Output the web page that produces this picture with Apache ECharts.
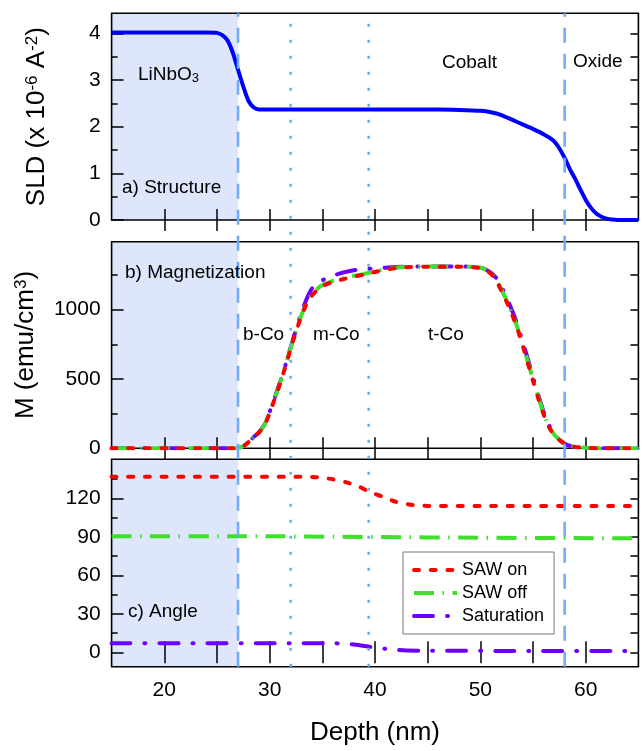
<!DOCTYPE html>
<html>
<head>
<meta charset="utf-8">
<script src="https://cdn.jsdelivr.net/npm/echarts@6/dist/echarts.min.js"></script>
<style>
  html, body { margin: 0; padding: 0; background: #fff; }
  #chart { width: 643px; height: 751px; }
</style>
</head>
<body>
<div id="chart"></div>
<script>
// ---- depth profile data (nm) ----
// a) scattering length density
const depthSLD = [15, 24, 25, 25.5, 26, 26.5, 27, 27.5, 28, 28.5, 29, 30, 40, 46, 48, 50, 51, 52, 53, 54, 55, 56, 56.9, 57.4, 58, 58.5, 59, 59.5, 60, 60.5, 61, 61.5, 62, 62.5, 63, 65];
const sldValues = [4.02, 4.02, 4.01, 3.96, 3.85, 3.59, 3.22, 2.86, 2.55, 2.41, 2.37, 2.37, 2.37, 2.37, 2.36, 2.34, 2.31, 2.25, 2.15, 2.05, 1.95, 1.84, 1.71, 1.57, 1.33, 1.09, 0.88, 0.65, 0.43, 0.26, 0.14, 0.07, 0.03, 0.01, 0, 0];

// b) magnetization (emu/cm3)
const depthM = [15, 26.5, 27, 27.5, 28, 28.5, 29, 29.5, 30, 30.5, 31, 31.5, 32, 32.5, 33, 33.5, 34, 34.5, 35, 36, 37, 38, 39, 40, 41, 42, 43, 45, 48, 49, 50, 50.5, 51, 51.5, 52, 52.5, 53, 53.5, 54, 54.5, 55, 55.5, 56, 56.5, 57, 57.5, 58, 58.5, 59, 60, 61, 62, 65];
const mSawOn = [0, 0, 3, 15, 45, 80, 115, 165, 255, 360, 470, 590, 720, 840, 950, 1040, 1100, 1140, 1170, 1200, 1220, 1238, 1253, 1272, 1288, 1300, 1306, 1310, 1310, 1308, 1300, 1285, 1258, 1210, 1135, 1055, 965, 865, 745, 615, 485, 360, 245, 155, 97, 60, 34, 19, 10, 4, 1, 0, 0];
const mSawOff = [0, 0, 3, 15, 45, 80, 116, 167, 258, 363, 474, 594, 724, 845, 955, 1048, 1108, 1148, 1178, 1207, 1227, 1244, 1258, 1276, 1291, 1302, 1307, 1311, 1311, 1309, 1302, 1288, 1262, 1218, 1145, 1065, 975, 875, 755, 625, 495, 370, 252, 160, 100, 62, 35, 19, 10, 4, 1, 0, 0];
const mSaturation = [0, 0, 3, 15, 45, 82, 118, 170, 262, 368, 480, 600, 730, 855, 975, 1075, 1150, 1190, 1212, 1245, 1268, 1284, 1292, 1298, 1303, 1307, 1309, 1312, 1312, 1310, 1303, 1290, 1265, 1230, 1165, 1085, 995, 895, 775, 645, 510, 385, 265, 170, 105, 62, 33, 17, 8, 3, 0, 0, 0];

// c) magnetization angle (deg)
const depthAngSawOn = [15, 33, 34.4, 35, 36, 37.3, 38.5, 39.5, 40.75, 42, 43.6, 45, 50, 65];
const angSawOn = [136.8, 136.8, 136.5, 136.0, 134.8, 132.4, 129.0, 125.0, 121.2, 117.3, 114.7, 114.1, 114.0, 114.0];
const depthAngSawOff = [15, 27, 40, 50, 65];
const angSawOff = [90.5, 90.5, 89.8, 89.3, 88.8];
const depthAngSat = [15, 36, 37, 38, 39, 40, 41, 42, 43, 45, 55, 65];
const angSaturation = [7.0, 7.0, 6.8, 6.1, 5.0, 3.7, 2.7, 1.9, 1.4, 1.2, 1.1, 1.0];

// layer structure
const substrateRange = [15, 27];
const interfaceDepths = [27, 58];      // substrate / cobalt / oxide
const subLayerDepths = [32, 39.4];     // b-Co / m-Co / t-Co

// axis ticks and labels
const depthRange = [15, 65];
const depthTicks = [20, 25, 30, 35, 40, 45, 50, 55, 60];
const depthLabels = [20, 30, 40, 50, 60];
const sldRange = [0, 4.43];
const sldMajor = [0, 1, 2, 3, 4];
const sldMinor = [0.5, 1.5, 2.5, 3.5];
const mRange = [0, 1490];
const mMajor = [0, 500, 1000];
const mMinor = [250, 750, 1250];
const angRange = [-11.2, 150.4];
const angMajor = [0, 30, 60, 90, 120];
const angMinor = [15, 45, 75, 105, 135];

const seriesNames = ['SAW on', 'SAW off', 'Saturation'];

// ---- layout and style ----
const FONT = '"Liberation Sans", Arial, Helvetica, sans-serif';
const LEFT = 111.6, RIGHT = 4.6;
const panelTop = [13.3, 241.7, 459.3];
const panelHeight = [206.7, 206.6, 207.4];
const SHADE = '#dde6fa';
const GUIDE = '#73acf6';

const zip = (xs, ys) => xs.map((x, i) => [x, ys[i]]);

const yRanges = [sldRange, mRange, angRange];
const yMajors = [sldMajor, mMajor, angMajor];
const yMinors = [sldMinor, mMinor, angMinor];

const grids = panelTop.map((t, i) => ({
  left: LEFT, right: RIGHT, top: t, height: panelHeight[i],
  show: true, borderColor: '#000', borderWidth: 1.6, backgroundColor: 'transparent'
}));
// overlay grid spanning all panels for the layer boundaries
grids.push({ left: LEFT, right: RIGHT, top: panelTop[0], height: panelTop[2] + panelHeight[2] - panelTop[0], show: false });

const tickLine = { color: '#000', width: 1.5 };
const labelStyle = { fontSize: 21, color: '#000', fontFamily: FONT, formatter: v => String(v) };

const xAxes = [];
const yAxes = [];
const titleRich = {
  m: { fontSize: 26, lineHeight: 26, fontFamily: FONT, color: '#000', verticalAlign: 'bottom' },
  s: { fontSize: 17, lineHeight: 17, fontFamily: FONT, color: '#000', verticalAlign: 'top', padding: [0, 0, 13, 0] }
};
const yTitles = ['{m|SLD (x 10}{s|-6}{m| A}{s|-2}{m|)}', '{m|M (emu/cm}{s|3}{m|)}', ''];

for (let g = 0; g < 3; g++) {
  ['bottom', 'top'].forEach(pos => {
    const isLabelled = g === 2 && pos === 'bottom';
    xAxes.push({
      gridIndex: g, type: 'value', position: pos, min: depthRange[0], max: depthRange[1],
      axisLine: { show: false }, splitLine: { show: false },
      axisTick: { inside: true, length: 11, customValues: depthTicks, lineStyle: tickLine },
      axisLabel: isLabelled ? Object.assign({ customValues: depthLabels, margin: 13 }, labelStyle) : { show: false },
      name: isLabelled ? 'Depth (nm)' : '',
      nameLocation: 'middle', nameGap: 53,
      nameTextStyle: { fontSize: 26, fontFamily: FONT, color: '#000' }
    });
  });
  const [ymin, ymax] = yRanges[g];
  // left: major ticks with labels
  yAxes.push({
    gridIndex: g, type: 'value', position: 'left', min: ymin, max: ymax,
    axisLine: { show: false }, splitLine: { show: false },
    axisTick: { inside: true, length: 12, customValues: yMajors[g], lineStyle: tickLine },
    axisLabel: Object.assign({ customValues: yMajors[g], margin: 11 }, labelStyle),
    name: yTitles[g], nameLocation: 'middle', nameRotate: 90, nameGap: 62,
    nameTextStyle: { rich: titleRich }
  });
  // left: minor ticks
  yAxes.push({
    gridIndex: g, type: 'value', position: 'left', min: ymin, max: ymax,
    axisLine: { show: false }, splitLine: { show: false },
    axisTick: { inside: true, length: 6, customValues: yMinors[g], lineStyle: tickLine },
    axisLabel: { show: false }
  });
  // right: all ticks
  yAxes.push({
    gridIndex: g, type: 'value', position: 'right', min: ymin, max: ymax,
    axisLine: { show: false }, splitLine: { show: false },
    axisTick: { inside: true, length: 8, customValues: yMajors[g].concat(yMinors[g]).filter(v => v > ymin && v < ymax), lineStyle: tickLine },
    axisLabel: { show: false }
  });
}
xAxes.push({ gridIndex: 3, type: 'value', min: depthRange[0], max: depthRange[1], show: false });
yAxes.push({ gridIndex: 3, type: 'value', min: 0, max: 1, show: false });
const OVERLAY_X = 6, OVERLAY_Y = 9;

const series = [];

// substrate shading in each panel
for (let g = 0; g < 3; g++) {
  const [ymin, ymax] = yRanges[g];
  series.push({
    type: 'custom', xAxisIndex: g * 2, yAxisIndex: g * 3, z: -1, silent: true,
    data: [substrateRange],
    renderItem: (params, api) => {
      const p0 = api.coord([api.value(0), ymax]);
      const p1 = api.coord([api.value(1), ymin]);
      return { type: 'rect', shape: { x: p0[0], y: p0[1], width: p1[0] - p0[0], height: p1[1] - p0[1] }, style: { fill: SHADE } };
    }
  });
}

const lineBase = { type: 'line', symbol: 'none', showSymbol: false, silent: true, smooth: 0.3 };
const styles = {
  'SAW on': { color: '#ff0000', width: 4, type: [5, 11.7], cap: 'round' },
  'SAW off': { color: '#3ee02c', width: 4, type: [20, 8.5, 1.5, 8.5], cap: 'butt' },
  'Saturation': { color: '#6a00ff', width: 4, type: [19, 14, 1, 14], cap: 'round' }
};

// a) SLD
series.push(Object.assign({}, lineBase, {
  name: 'SLD', xAxisIndex: 0, yAxisIndex: 0, z: 3, smooth: 0.25,
  data: zip(depthSLD, sldValues),
  lineStyle: { color: '#0000ff', width: 4 }
}));

// b) magnetization
[[mSawOn, 'SAW on'], [mSawOff, 'SAW off'], [mSaturation, 'Saturation']].forEach(([vals, name], i) => {
  series.push(Object.assign({}, lineBase, {
    name, xAxisIndex: 2, yAxisIndex: 3, z: 3 + (2 - i),
    data: zip(depthM, vals), itemStyle: { color: styles[name].color },
    lineStyle: styles[name]
  }));
});

// c) angle
[[depthAngSawOn, angSawOn, 'SAW on'], [depthAngSawOff, angSawOff, 'SAW off'], [depthAngSat, angSaturation, 'Saturation']].forEach(([xs, vals, name]) => {
  series.push(Object.assign({}, lineBase, {
    name, xAxisIndex: 4, yAxisIndex: 6, z: 3,
    data: zip(xs, vals), itemStyle: { color: styles[name].color },
    lineStyle: styles[name]
  }));
});

// layer boundaries across all panels
interfaceDepths.forEach(d => {
  series.push({
    type: 'line', xAxisIndex: OVERLAY_X, yAxisIndex: OVERLAY_Y, symbol: 'none', silent: true, z: 10,
    data: [[d, 0], [d, 1]],
    lineStyle: { color: GUIDE, width: 2.6, type: [15, 11] }
  });
});
subLayerDepths.forEach(d => {
  series.push({
    type: 'line', xAxisIndex: OVERLAY_X, yAxisIndex: OVERLAY_Y, symbol: 'none', silent: true, z: 10,
    data: [[d, 0], [d, 1]],
    lineStyle: { color: GUIDE, width: 2.6, type: [3, 13] }
  });
});

// region labels
const txt = (text, x, y, rich) => ({
  type: 'text', z: 20, silent: true,
  style: { text, x, y, fill: '#000', fontSize: 19, fontFamily: FONT, verticalAlign: 'middle', rich }
});
const subRich = {
  m: { fontSize: 19, lineHeight: 19, fontFamily: FONT, color: '#000', verticalAlign: 'top' },
  b: { fontSize: 13, lineHeight: 13, fontFamily: FONT, color: '#000', verticalAlign: 'bottom', padding: [12, 0, 0, 0] }
};

const option = {
  backgroundColor: '#fff',
  animation: false,
  grid: grids,
  xAxis: xAxes,
  yAxis: yAxes,
  legend: {
    data: seriesNames,
    orient: 'vertical', left: 403, top: 552,
    padding: [9, 10, 9, 9], itemGap: 5, itemWidth: 43, itemHeight: 14,
    borderColor: '#777', borderWidth: 1, backgroundColor: '#fff', borderRadius: 0,
    selectedMode: false, z: 30,
    itemStyle: { opacity: 0 },
    lineStyle: { width: 4 },
    textStyle: { fontSize: 18, fontFamily: FONT, color: '#000' }
  },
  graphic: [
    txt('{m|LiNbO}{b|3}', 138, 75, subRich),
    txt('Cobalt', 442, 63),
    txt('Oxide', 573, 62),
    txt('a) Structure', 122, 188),
    txt('b) Magnetization', 125, 273),
    txt('b-Co', 243, 335),
    txt('m-Co', 313, 335),
    txt('t-Co', 428, 335),
    txt('c) Angle', 128, 612)
  ],
  series
};

const chart = echarts.init(document.getElementById('chart'));
chart.setOption(option);
</script>
</body>
</html>
